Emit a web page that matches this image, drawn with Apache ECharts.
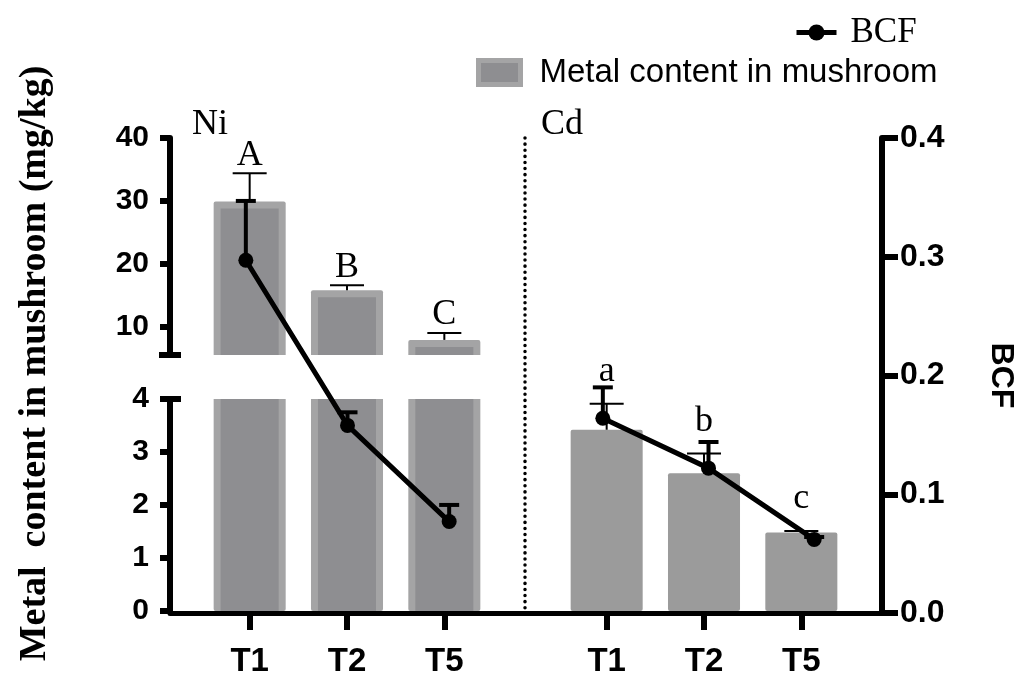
<!DOCTYPE html>
<html><head><meta charset="utf-8">
<script src="https://cdn.jsdelivr.net/npm/echarts@6/dist/echarts.min.js"></script>
<style>html,body{margin:0;padding:0;background:#fff}#c{width:1029px;height:678px}</style>
</head><body><div id="c"></div>
<script>
// ---------------- data ----------------
var categories = ['T1', 'T2', 'T5'];
var niMetal = [29.9, 15.8, 7.9];
var niMetalErr = [4.5, 0.8, 1.1];
var cdMetal = [3.42, 2.60, 1.48];
var cdMetalErr = [0.49, 0.37, 0.03];
var niBCF = [0.297, 0.158, 0.077];
var niBCFErr = [0.050, 0.011, 0.014];
var cdBCF = [0.164, 0.122, 0.062];
var cdBCFErr = [0.026, 0.022, 0.002];
var niLetters = ['A', 'B', 'C'];
var cdLetters = ['a', 'b', 'c'];
var upperTicks = [10, 20, 30, 40];
var lowerTicks = [0, 1, 2, 3, 4];
var METAL = 'Metal content in mushroom';
var BCF = 'BCF';
var leftTitle = 'Metal  content in mushroom (mg/kg)';
var rightTitle = 'BCF';

// ---------------- layout / style ----------------
var W = 1029, H = 678;
var AXL = 170, AXR = 882, Y0 = 613, YTOP = 138, UP_BOT = 355, LOW_TOP = 399;
var UPPER_MIN = 5.5;
var OUTER = '#a4a4a5', INNER = '#8e8e91', CDC = '#9b9b9b';
var SANS = '"Liberation Sans", Arial, sans-serif';
var SERIF = '"Liberation Serif", "Times New Roman", serif';

function pairs(vals, errs) {
  return vals.map(function (v, i) { return errs ? [categories[i], v, errs[i]] : [categories[i], v]; });
}

function niBarRender(params, api) {
  var top = api.coord([api.value(0), api.value(1)]);
  var base = api.coord([api.value(0), 0]);
  var w = api.size([1, 0])[0] * 0.74;
  var rim = 7;
  var h = base[1] - top[1];
  return { type: 'group', children: [
    { type: 'rect', shape: { x: top[0] - w / 2, y: top[1], width: w, height: h, r: 2 }, style: { fill: OUTER } },
    { type: 'rect', shape: { x: top[0] - w / 2 + rim, y: top[1] + rim, width: w - 2 * rim, height: h - rim }, style: { fill: INNER } }
  ]};
}

function errRender(half, lw, letters, gap) {
  return function (params, api) {
    var x = api.value(0), m = api.value(1), e = api.value(2);
    var p0 = api.coord([x, m]), p1 = api.coord([x, m + e]);
    var ch = [
      { type: 'line', shape: { x1: p0[0], y1: p0[1], x2: p1[0], y2: p1[1] }, style: { stroke: '#000', lineWidth: lw } },
      { type: 'line', shape: { x1: p1[0] - half, y1: p1[1], x2: p1[0] + half, y2: p1[1] }, style: { stroke: '#000', lineWidth: lw } }
    ];
    if (letters) {
      ch.push({ type: 'text', x: p1[0], y: p1[1] - gap,
        style: { text: letters[params.dataIndex], font: '36px ' + SERIF, fill: '#000', align: 'center', verticalAlign: 'bottom' } });
    }
    return { type: 'group', children: ch };
  };
}

var axisBlack = { show: true, onZero: false, lineStyle: { color: '#000', width: 6 } };
var hiddenCat = { type: 'category', data: categories, show: false };
var lineBase = { type: 'line', z: 5, symbol: 'circle', symbolSize: 15,
  lineStyle: { color: '#000', width: 5 }, itemStyle: { color: '#000' } };

var chart = echarts.init(document.getElementById('c'), null, { renderer: 'canvas' });
chart.setOption({
  animation: false,
  backgroundColor: '#fff',
  grid: [
    { left: 201, right: W - 493, top: LOW_TOP, bottom: H - Y0 },      // 0 Ni lower
    { left: 201, right: W - 493, top: YTOP, bottom: H - UP_BOT },     // 1 Ni upper
    { left: 558, right: W - 850, top: LOW_TOP, bottom: H - Y0 },      // 2 Cd
    { left: 195, right: W - 500, top: YTOP, bottom: H - Y0 },         // 3 Ni BCF
    { left: 550, right: W - 867, top: YTOP, bottom: H - Y0 },         // 4 Cd BCF
    { left: AXL, right: W - AXR, top: YTOP, bottom: H - Y0 }          // 5 frame
  ],
  xAxis: [
    { gridIndex: 0, type: 'category', data: categories, axisLine: { show: false },
      axisTick: { show: true, alignWithLabel: true, length: 19, lineStyle: { color: '#000', width: 6 } },
      axisLabel: { color: '#000', fontFamily: SANS, fontWeight: 'bold', fontSize: 33, margin: 34 } },
    Object.assign({ gridIndex: 1 }, hiddenCat),
    { gridIndex: 2, type: 'category', data: categories, axisLine: { show: false },
      axisTick: { show: true, alignWithLabel: true, length: 19, lineStyle: { color: '#000', width: 6 } },
      axisLabel: { color: '#000', fontFamily: SANS, fontWeight: 'bold', fontSize: 33, margin: 34 } },
    Object.assign({ gridIndex: 3 }, hiddenCat),
    Object.assign({ gridIndex: 4 }, hiddenCat),
    { gridIndex: 5, type: 'value', min: 0, max: 1, axisLine: { show: true, onZero: false, lineStyle: { color: '#000', width: 5 } },
      axisTick: { show: false }, axisLabel: { show: false }, splitLine: { show: false } }
  ],
  yAxis: [
    { gridIndex: 0, type: 'value', min: 0, max: 4, position: 'left', offset: 201 - AXL,
      axisLine: axisBlack, splitLine: { show: false },
      axisTick: { show: true, length: 10, customValues: lowerTicks, lineStyle: { color: '#000', width: 6 } },
      axisLabel: { customValues: lowerTicks, color: '#000', fontFamily: SANS, fontWeight: 'bold', fontSize: 30, margin: 21 } },
    { gridIndex: 1, type: 'value', min: UPPER_MIN, max: 40, position: 'left', offset: 201 - AXL,
      axisLine: axisBlack, splitLine: { show: false },
      axisTick: { show: true, length: 10, customValues: upperTicks, lineStyle: { color: '#000', width: 6 } },
      axisLabel: { customValues: upperTicks, color: '#000', fontFamily: SANS, fontWeight: 'bold', fontSize: 30, margin: 21 } },
    { gridIndex: 2, type: 'value', min: 0, max: 4, show: false },
    { gridIndex: 3, type: 'value', min: 0, max: 0.4, show: false },
    { gridIndex: 4, type: 'value', min: 0, max: 0.4, show: false },
    { gridIndex: 5, type: 'value', min: 0, max: 0.4, interval: 0.1, position: 'right',
      axisLine: axisBlack, splitLine: { show: false },
      axisTick: { show: true, length: 16, lineStyle: { color: '#000', width: 6 } },
      axisLabel: { color: '#000', fontFamily: SANS, fontWeight: 'bold', fontSize: 32, margin: 18,
        formatter: function (v) { return v.toFixed(1); } },
      name: rightTitle, nameLocation: 'middle', nameRotate: -90, nameGap: 103,
      nameTextStyle: { color: '#000', fontFamily: SANS, fontWeight: 'bold', fontSize: 32 } },
    { gridIndex: 5, type: 'value', min: 0, max: 0.4, position: 'left',
      axisLine: { show: false, onZero: false }, axisTick: { show: false }, axisLabel: { show: false }, splitLine: { show: false },
      name: leftTitle, nameLocation: 'middle', nameRotate: 90, nameGap: 116,
      nameTextStyle: { color: '#000', fontFamily: SERIF, fontWeight: 'bold', fontSize: 38, padding: [0, 0, 0, 24] } }
  ],
  legend: [
    { data: [{ name: BCF, itemStyle: { color: '#000' }, lineStyle: { color: '#000', width: 5 } }],
      left: 794, top: 15, padding: 0, itemWidth: 40, itemHeight: 20,
      textStyle: { color: '#000', fontFamily: SERIF, fontSize: 35, padding: [0, 0, 0, 9] } },
    { data: [{ name: METAL, icon: 'rect', itemStyle: { color: INNER, borderColor: OUTER, borderWidth: 5 } }],
      left: 476, top: 56, padding: 0, itemWidth: 42, itemHeight: 24,
      textStyle: { color: '#000', fontFamily: SANS, fontSize: 33, padding: [0, 0, 0, 14] } }
  ],
  series: [
    Object.assign({ name: BCF, xAxisIndex: 3, yAxisIndex: 3, data: niBCF }, lineBase),
    Object.assign({ name: BCF, xAxisIndex: 4, yAxisIndex: 4, data: cdBCF }, lineBase),
    { name: METAL, type: 'custom', xAxisIndex: 1, yAxisIndex: 1, clip: true, z: 2,
      itemStyle: { color: INNER }, data: pairs(niMetal), renderItem: niBarRender },
    { name: METAL, type: 'custom', xAxisIndex: 0, yAxisIndex: 0, clip: true, z: 2,
      itemStyle: { color: INNER }, data: pairs(niMetal), renderItem: niBarRender },
    { name: METAL, type: 'bar', xAxisIndex: 2, yAxisIndex: 2, z: 2, barWidth: '74%',
      itemStyle: { color: CDC, borderRadius: 2 }, data: cdMetal },
    { name: METAL, type: 'custom', xAxisIndex: 1, yAxisIndex: 1, z: 3, itemStyle: { color: '#000' },
      data: pairs(niMetal, niMetalErr), renderItem: errRender(17, 2, niLetters, 0) },
    { name: METAL, type: 'custom', xAxisIndex: 2, yAxisIndex: 2, z: 3, itemStyle: { color: '#000' },
      data: pairs(cdMetal, cdMetalErr), renderItem: errRender(17, 2, cdLetters, 14) },
    { name: BCF, type: 'custom', xAxisIndex: 3, yAxisIndex: 3, z: 4, itemStyle: { color: '#000' },
      data: pairs(niBCF, niBCFErr), renderItem: errRender(10, 4) },
    { name: BCF, type: 'custom', xAxisIndex: 4, yAxisIndex: 4, z: 4, itemStyle: { color: '#000' },
      data: pairs(cdBCF, cdBCFErr), renderItem: errRender(10, 4) }
  ],
  graphic: [
    { type: 'line', shape: { x1: 525, y1: YTOP, x2: 525, y2: Y0 }, z: 1,
      style: { stroke: '#000', lineWidth: 3.5, lineDash: [0.1, 6], lineCap: 'round' } },
    { type: 'line', shape: { x1: AXL - 11, y1: UP_BOT, x2: AXL + 11, y2: UP_BOT }, style: { stroke: '#000', lineWidth: 6 } },
    { type: 'line', shape: { x1: AXL, y1: LOW_TOP, x2: AXL + 11, y2: LOW_TOP }, style: { stroke: '#000', lineWidth: 6 } },
    { type: 'text', x: 192, y: 143, style: { text: 'Ni', font: '36px ' + SERIF, fill: '#000', verticalAlign: 'bottom' } },
    { type: 'text', x: 541, y: 143, style: { text: 'Cd', font: '36px ' + SERIF, fill: '#000', verticalAlign: 'bottom' } }
  ]
});
</script></body></html>
